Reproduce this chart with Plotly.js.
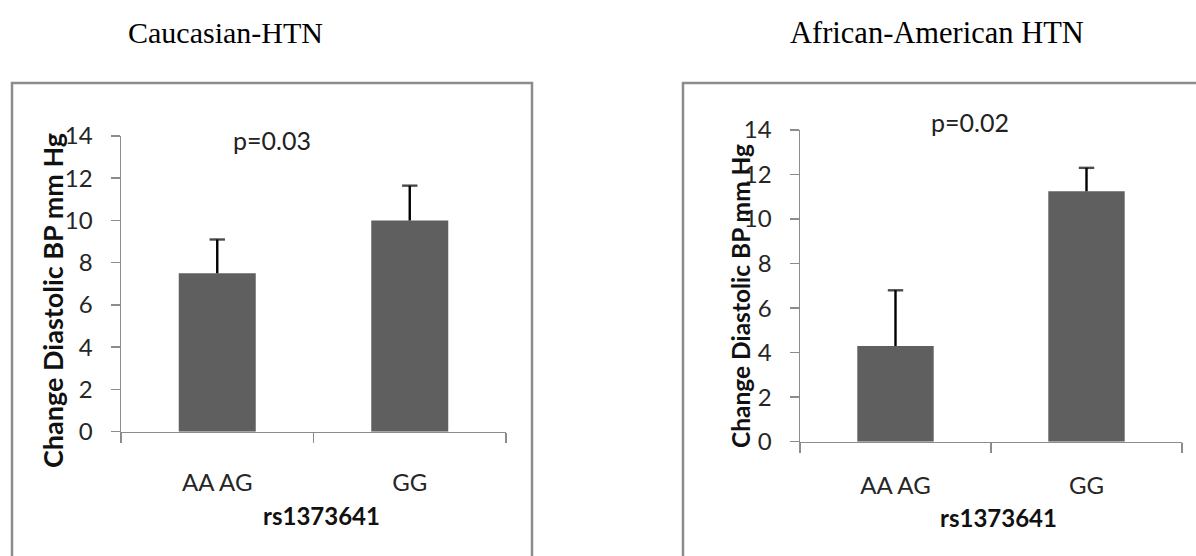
<!DOCTYPE html>
<html><head><meta charset="utf-8">
<script src="https://cdn.plot.ly/plotly-3.0.1.min.js"></script>
<style>html,body{margin:0;padding:0;background:#fff}</style>
</head><body><div id="chart" style="width:1196px;height:556px"></div>
<script>
const categories = ["AA AG", "GG"];
const caucasianValues = [7.5, 10.0];
const caucasianErrors = [1.6, 1.65];
const africanValues = [4.3, 11.25];
const africanErrors = [2.5, 1.05];
const panelTitles = ["Caucasian-HTN", "African-American HTN"];
const pValues = ["p=0.03", "p=0.02"];
const yTitle = "Change Diastolic BP mm Hg";
const xTitle = "rs1373641";
const yTicks = [0, 2, 4, 6, 8, 10, 12, 14];

const W = 1196, H = 556;
const px = x => x / W;
const py = y => 1 - y / H;
const gray = '#8c8c8c';
const tickFont = {family: 'Lato, "Open Sans", sans-serif', size: 24, color: '#262626'};
const barColor = '#5f5f5f';

function bar(vals, xa, ya) {
  return {
    type: 'bar', x: categories, y: vals, xaxis: xa, yaxis: ya,
    width: 0.4, marker: {color: barColor},
    hoverinfo: 'none', showlegend: false
  };
}
// upper-only error bars: stem from bar top to value+error, cap at the top
function errBars(vals, errs, xa, ya) {
  const xs = [], ys = [], sizes = [];
  categories.forEach((c, i) => {
    xs.push(c, c, null);
    ys.push(vals[i], vals[i] + errs[i], null);
    sizes.push(0, 11, 0);
  });
  return {
    type: 'scatter', mode: 'lines+markers', x: xs, y: ys, xaxis: xa, yaxis: ya,
    line: {color: '#000', width: 2.4},
    marker: {symbol: 'line-ew', size: sizes, color: '#000', line: {color: '#000', width: 2.4}},
    connectgaps: false, hoverinfo: 'none', showlegend: false, cliponaxis: false
  };
}

function xAxis(domain, anchor, standoff) {
  return {
    domain: domain, anchor: anchor, type: 'category', range: [-0.5, 1.5],
    tickson: 'boundaries', ticks: 'outside', ticklen: 10, tickwidth: 1.5, tickcolor: gray,
    showline: true, linecolor: gray, linewidth: 1.5, showgrid: false, zeroline: false,
    tickfont: tickFont, ticklabelstandoff: standoff, fixedrange: true
  };
}
function yAxis(domain, anchor) {
  return {
    domain: domain, anchor: anchor, range: [0, 14], tickvals: yTicks,
    ticks: 'outside', ticklen: 9, tickwidth: 1.5, tickcolor: gray,
    showline: true, linecolor: gray, linewidth: 1.5, showgrid: false, zeroline: false,
    tickfont: tickFont, ticklabelstandoff: 13, fixedrange: true
  };
}

const data = [
  bar(caucasianValues, 'x', 'y'),
  errBars(caucasianValues, caucasianErrors, 'x', 'y'),
  bar(africanValues, 'x2', 'y2'),
  errBars(africanValues, africanErrors, 'x2', 'y2')
];

const titleFont = s => ({family: '"Liberation Serif", "Times New Roman", serif', size: s, color: '#000'});
const pFont = {family: 'Lato, sans-serif', size: 25, color: '#222'};
const boldFont = s => ({family: 'Lato, sans-serif', size: s, color: '#111', weight: 'bold'});
const ann = (text, x, y, font, extra) => Object.assign({
  text: text, x: px(x), y: py(y), xref: 'paper', yref: 'paper', showarrow: false,
  xanchor: 'center', yanchor: 'middle', font: font
}, extra || {});

const annotations = [
  ann(panelTitles[0], 225, 33, titleFont(30)),
  ann(panelTitles[1], 937, 33, titleFont(30.5)),
  ann(pValues[0], 272, 140, pFont),
  ann(pValues[1], 970, 122, pFont),
  ann('<b>' + yTitle + '</b>', 52, 301, boldFont(27), {textangle: -90}),
  ann('<b>' + yTitle + '</b>', 740, 296, boldFont(24.5), {textangle: -90}),
  ann('<b>' + xTitle + '</b>', 321, 515, boldFont(24)),
  ann('<b>' + xTitle + '</b>', 998, 517, boldFont(24))
];

const shapes = [
  {type: 'rect', xref: 'paper', yref: 'paper', x0: px(12), x1: px(532), y0: py(83), y1: -0.2,
   line: {color: gray, width: 2.5}, fillcolor: 'rgba(0,0,0,0)', layer: 'below'},
  {type: 'rect', xref: 'paper', yref: 'paper', x0: px(683), x1: 1.2, y0: py(83), y1: -0.2,
   line: {color: gray, width: 2.5}, fillcolor: 'rgba(0,0,0,0)', layer: 'below'}
];

const layout = {
  width: W, height: H, margin: {l: 0, r: 0, t: 0, b: 0},
  paper_bgcolor: '#fff', plot_bgcolor: 'rgba(0,0,0,0)',
  xaxis: xAxis([px(121), px(506)], 'y', 29),
  yaxis: yAxis([py(431.7), py(136)], 'x'),
  xaxis2: xAxis([px(800), px(1182)], 'y2', 22),
  yaxis2: yAxis([py(441.7), py(130)], 'x2'),
  annotations: annotations, shapes: shapes
};

Plotly.newPlot('chart', data, layout, {displayModeBar: false, staticPlot: true});
</script></body></html>
